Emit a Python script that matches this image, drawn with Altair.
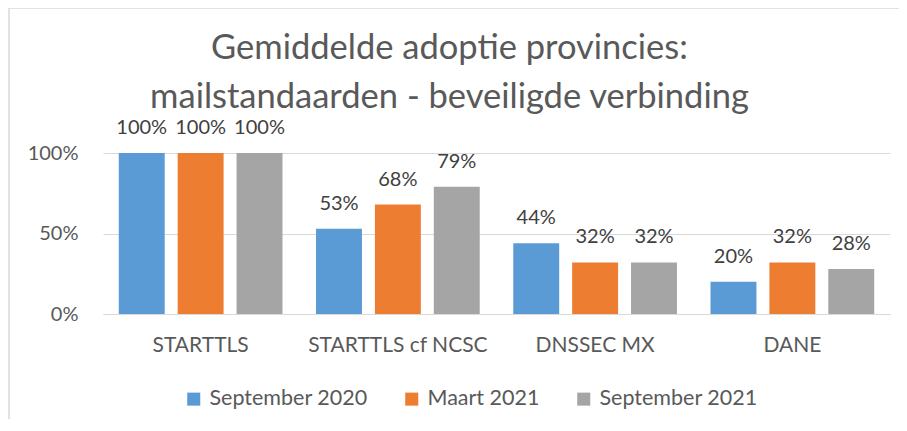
import altair as alt
import pandas as pd

categories = ["STARTTLS", "STARTTLS cf NCSC", "DNSSEC MX", "DANE"]
series = ["September 2020", "Maart 2021", "September 2021"]
sep2020 = [1.00, 0.53, 0.44, 0.20]
maart2021 = [1.00, 0.68, 0.32, 0.32]
sep2021 = [1.00, 0.79, 0.32, 0.28]
colors = ["#5b9bd5", "#ed7d31", "#a5a5a5"]

rows = []
for s, vals in zip(series, [sep2020, maart2021, sep2021]):
    for c, v in zip(categories, vals):
        rows.append({"cat": c, "serie": s, "val": v})
df = pd.DataFrame(rows)

FONT = "Lato"
W, H = 787, 161

x = alt.X("cat:N", sort=categories, title=None,
          scale=alt.Scale(paddingInner=0.17, paddingOuter=0.08),
          axis=alt.Axis(labelAngle=0, ticks=False, domainColor="#d9d9d9",
                        labelFontSize=21, labelColor="#595959", labelFont=FONT,
                        labelPadding=20))
xo = alt.XOffset("serie:N", sort=series, scale=alt.Scale(paddingInner=0.22))
y = alt.Y("val:Q", title=None,
          scale=alt.Scale(domain=[0, 1]),
          axis=alt.Axis(values=[0, 0.5, 1], format="%", ticks=False, domain=False,
                        gridColor="#d9d9d9", labelFontSize=20, labelColor="#595959",
                        labelFont=FONT, labelPadding=25))
color = alt.Color("serie:N", sort=series, title=None,
                  scale=alt.Scale(domain=series, range=colors),
                  legend=alt.Legend(orient="none", direction="horizontal",
                                    legendX=80, legendY=235,
                                    labelFontSize=21.5, labelColor="#595959", labelFont=FONT,
                                    symbolType="square", symbolSize=170, symbolStrokeWidth=0,
                                    columnPadding=33, labelOffset=5))

base = alt.Chart(df)
bars = base.mark_bar().encode(x=x, xOffset=xo, y=y, color=color)
labels = base.mark_text(dy=-25, fontSize=20, color="#404040", font=FONT).encode(
    x=x, xOffset=xo, y=y, text=alt.Text("val:Q", format=".0%"))

frame_df = pd.DataFrame({"a": [1]})
frame = alt.Chart(frame_df).mark_rect(fill=None, stroke="#d9d9d9", strokeWidth=1.5, clip=False).encode(
    x=alt.value(-94), x2=alt.value(W + 40), y=alt.value(-145), y2=alt.value(H + 160))

chart = alt.layer(frame, bars, labels).properties(
    width=W, height=H,
    title=alt.TitleParams(["Gemiddelde adoptie provincies:", "mailstandaarden - beveiligde verbinding"],
                          fontSize=34.5, font=FONT, fontWeight="normal", color="#595959",
                          lineHeight=49, anchor="middle", frame="group", offset=-108, dx=-47),
    autosize=alt.AutoSizeParams(type="none"),
    padding={"left": 95, "top": 145, "right": 9, "bottom": 105},
).configure_view(stroke=None)

chart.save("out.html", embed_options={"renderer": "svg", "actions": False})
